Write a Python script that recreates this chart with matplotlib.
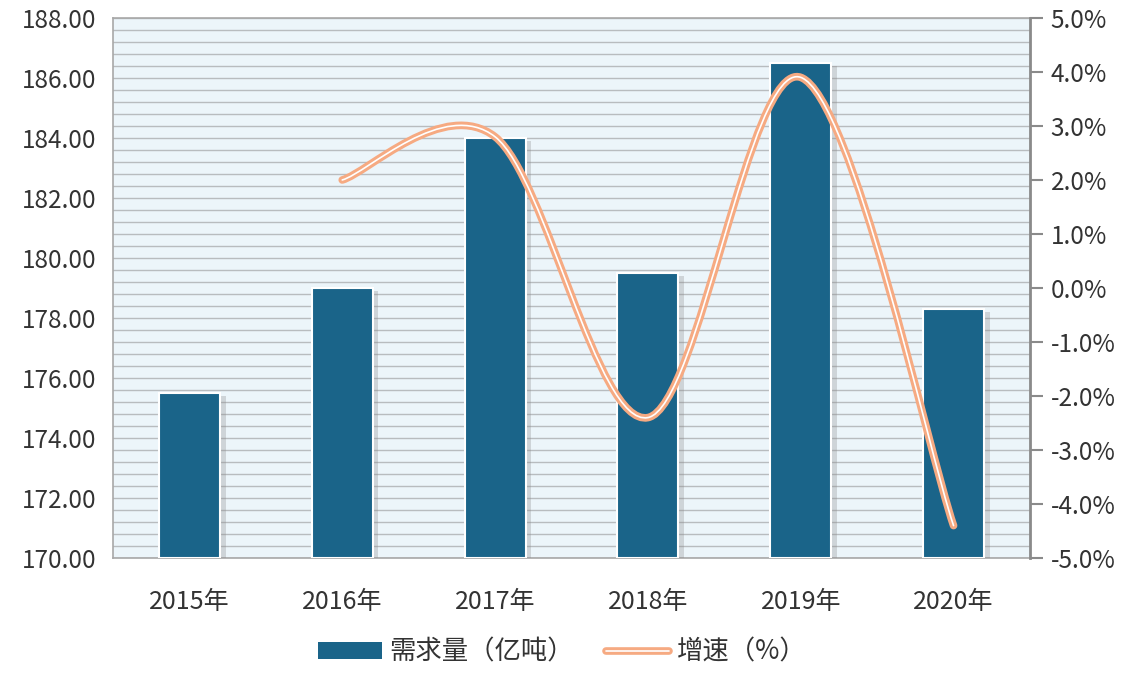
import matplotlib
matplotlib.use("Agg")
import matplotlib.pyplot as plt
import matplotlib.patheffects as pe
from matplotlib.path import Path
from matplotlib.patches import PathPatch, Patch
from matplotlib.lines import Line2D
from matplotlib.ticker import MultipleLocator, FuncFormatter
import numpy as np

plt.rcParams['font.family'] = ['Noto Sans CJK SC', 'DejaVu Sans']

years = ['2015年', '2016年', '2017年', '2018年', '2019年', '2020年']
demand = [175.5, 179.0, 184.0, 179.5, 186.5, 178.3]
growth_years_idx = [1, 2, 3, 4, 5]
growth = [2.0, 2.8, -2.4, 3.9, -4.4]

bar_color = '#1A6489'
line_color = '#F6AA82'
text_color = '#333333'

fig = plt.figure(figsize=(11.21, 6.73), dpi=100)
ax = fig.add_axes([0.1008, 0.1709, 0.818, 0.8024])
ax.set_facecolor('#ECF5FA')

x = np.arange(len(years))
bars = ax.bar(x, [d - 170 for d in demand], bottom=170, width=0.4, color=bar_color,
              edgecolor='white', linewidth=1.5, zorder=3)
for b in bars:
    b.set_path_effects([pe.SimplePatchShadow(offset=(4, -2), shadow_rgbFace='#8A8A8A', alpha=0.3),
                        pe.Normal()])

ax.set_xlim(-0.5, 5.5)
ax.set_ylim(170, 188)
ax.yaxis.set_major_locator(MultipleLocator(2))
ax.yaxis.set_minor_locator(MultipleLocator(0.4))
ax.yaxis.set_major_formatter(FuncFormatter(lambda v, p: f'{v:.2f}'))
ax.grid(axis='y', which='both', color='#B8BCBF', linewidth=1.0, zorder=1)
ax.set_axisbelow(True)
ax.set_xticks(x)
ax.set_xticklabels(years)
ax.tick_params(axis='x', length=0, pad=22, labelsize=18, colors=text_color)
ax.tick_params(axis='y', which='both', length=0, pad=12, labelsize=17.5, colors=text_color)
for s in ['left', 'top', 'bottom']:
    ax.spines[s].set_color('#A8A8A8')
    ax.spines[s].set_linewidth(1.2)
ax.spines['right'].set_visible(False)

ax2 = ax.twinx()
ax2.set_ylim(-5.0, 5.0)
ax2.yaxis.set_major_locator(MultipleLocator(1))
ax2.yaxis.set_major_formatter(FuncFormatter(lambda v, p: f'{v:.1f}%'))
ax2.tick_params(axis='y', length=9, width=1.5, color='#8A8A8A', direction='out',
                pad=6, labelsize=17.5, colors=text_color)
ax2.spines['right'].set_color('#8A8A8A')
ax2.spines['right'].set_linewidth(2)
for s in ['left', 'top', 'bottom']:
    ax2.spines[s].set_visible(False)

# smoothed line (spreadsheet-style bezier smoothing through the data points)
pts = np.array([[xi, yi] for xi, yi in zip(growth_years_idx, growth)], dtype=float)
ext = np.vstack([pts[0], pts, pts[-1]])
verts = [tuple(pts[0])]
codes = [Path.MOVETO]
for i in range(1, len(ext) - 2):
    p0, p1, p2, p3 = ext[i - 1], ext[i], ext[i + 1], ext[i + 2]
    c1 = p1 + (p2 - p0) / 6.0
    c2 = p2 - (p3 - p1) / 6.0
    verts += [tuple(c1), tuple(c2), tuple(p2)]
    codes += [Path.CURVE4] * 3
path = Path(verts, codes)
patch = PathPatch(path, facecolor='none', edgecolor='white', linewidth=1.2, zorder=5,
                  capstyle='round', joinstyle='round')
patch.set_path_effects([pe.Stroke(linewidth=5.5, foreground=line_color, capstyle='round'),
                        pe.Normal()])
ax2.add_patch(patch)

# legend
bar_handle = Patch(facecolor=bar_color, edgecolor='none')
line_handle = Line2D([], [], color='white', linewidth=1.2, solid_capstyle='round')
line_handle.set_path_effects([pe.Stroke(linewidth=5.5, foreground=line_color, capstyle='round'),
                              pe.Normal()])
leg = fig.legend([bar_handle, line_handle], ['需求量（亿吨）', '增速（%）'], loc='center',
                 bbox_to_anchor=(0.502, 0.031), ncol=2, frameon=True, fancybox=False,
                 shadow=False, fontsize=19, handlelength=2.4, handleheight=0.6,
                 handletextpad=0.3, columnspacing=1.2, borderpad=0.4, labelcolor=text_color)
leg.get_frame().set_edgecolor('white')
leg.get_frame().set_facecolor('white')

fig.savefig('out.png', dpi=100)
